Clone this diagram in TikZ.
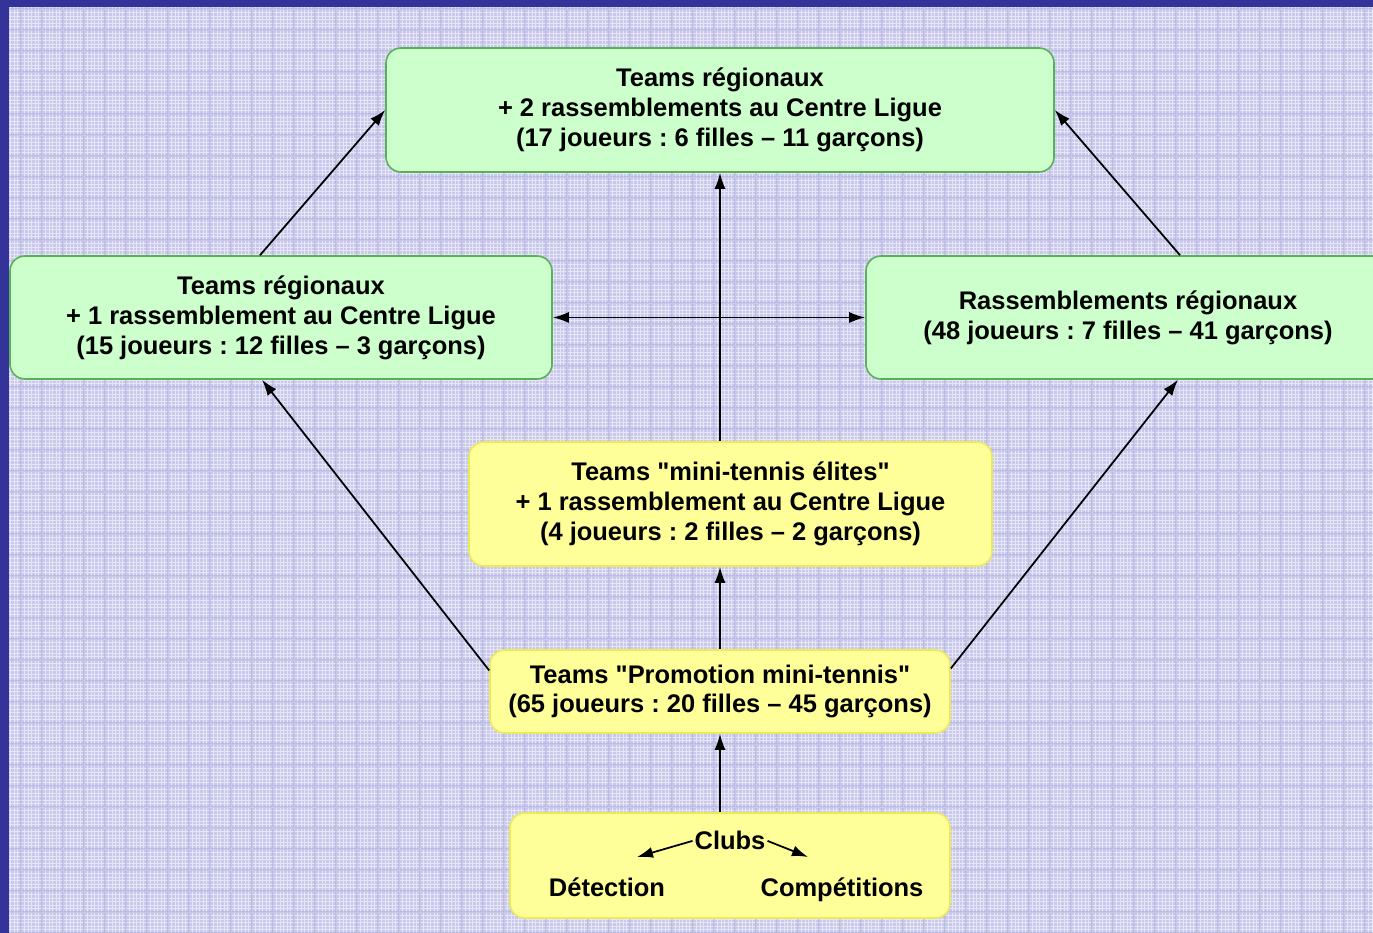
\documentclass[tikz,border=0pt]{standalone}
\usepackage{fontspec}
\setmainfont{Liberation Sans}[Ligatures=TeXOff]
\usepackage{tikz}
\usetikzlibrary{arrows.meta,calc,positioning}
\definecolor{frameblue}{RGB}{51,51,153}
\definecolor{paper}{RGB}{200,200,236}
\definecolor{paperline}{RGB}{165,165,218}
\definecolor{greenfill}{RGB}{204,255,204}
\definecolor{greenline}{RGB}{90,175,90}
\definecolor{yellowfill}{RGB}{255,255,153}
\definecolor{yellowline}{RGB}{235,235,90}
\frenchspacing
\tikzset{
  box/.style={rounded corners=0.3cm, line width=0.9pt, align=center,
    font=\fontsize{14.5}{17}\selectfont\bfseries, inner sep=0pt},
  greenbox/.style={box, fill=greenfill, draw=greenline},
  yellowbox/.style={box, fill=yellowfill, draw=yellowline},
  label text/.style={font=\fontsize{14.5}{17}\selectfont\bfseries, anchor=base},
  link/.style={line width=1pt, ->},
  >={Latex[length=3.2mm,width=2.2mm]}
}

\begin{document}
\begin{tikzpicture}
% background
\useasboundingbox (0,0) rectangle (27.46,18.66);
\fill[frameblue] (0,0) rectangle (27.46,18.66);
\fill[paper] (0.18,0) rectangle (27.46,18.52);
\draw[white,line width=0.25pt,opacity=0.55,step=0.07] (0.18,0) grid (27.46,18.52);
\draw[paperline,line width=1.4pt,opacity=0.45,step=0.42] (0.18,0) grid (27.46,18.52);

% boxes
\node[greenbox, minimum width=13.36cm, minimum height=2.48cm] (top) at (14.40,16.46)
  {Teams régionaux\\+ 2 rassemblements au Centre Ligue\\(17 joueurs : 6 filles – 11 garçons)};
\node[greenbox, minimum width=10.84cm, minimum height=2.46cm] (left) at (5.62,12.31)
  {Teams régionaux\\+ 1 rassemblement au Centre Ligue\\(15 joueurs : 12 filles – 3 garçons)};
\node[greenbox, minimum width=10.48cm, minimum height=2.46cm] (right) at (22.56,12.31)
  {Rassemblements régionaux\\(48 joueurs : 7 filles – 41 garçons)};
\node[yellowbox, minimum width=10.46cm, minimum height=2.48cm] (elite) at (14.61,8.58)
  {Teams "mini-tennis élites"\\+ 1 rassemblement au Centre Ligue\\(4 joueurs : 2 filles – 2 garçons)};
\node[yellowbox, minimum width=9.2cm, minimum height=1.66cm] (promo) at (14.40,4.83)
  {Teams "Promotion mini-tennis"\\(65 joueurs : 20 filles – 45 garçons)};
\node[yellowbox, minimum width=8.8cm, minimum height=2.1cm] (clubs) at (14.60,1.35) {};

% inside clubs
\node[label text, inner sep=1pt] (clublbl) at (14.60,1.66) {Clubs};
\node[label text] (detect) at (12.14,0.72) {Détection};
\node[label text] (compet) at (16.84,0.72) {Compétitions};
\coordinate (detecttip) at (12.74,1.52);
\coordinate (compettip) at (16.16,1.52);
\draw[link] (clublbl.west) -- (detecttip);
\draw[link] (clublbl.east) -- (compettip);

% connectors
\draw[link] (clubs.north -| promo.south) -- (promo.south);
\draw[link] (promo.north) -- (promo.north |- elite.south);
\draw[link] (elite.north -| top.south) -- (top.south);
\draw[link] ([xshift=-0.42cm]left.north) -- (top.west);
\draw[link] ([xshift=1.04cm]right.north) -- (top.east);
\draw[link] ([yshift=0.42cm]promo.west) -- ([xshift=-0.38cm]left.south);
\draw[link] ([yshift=0.46cm]promo.east) -- ([xshift=1.0cm]right.south);
\draw[line width=1pt, <->] (left.east) -- (right.west);
\end{tikzpicture}
\end{document}
